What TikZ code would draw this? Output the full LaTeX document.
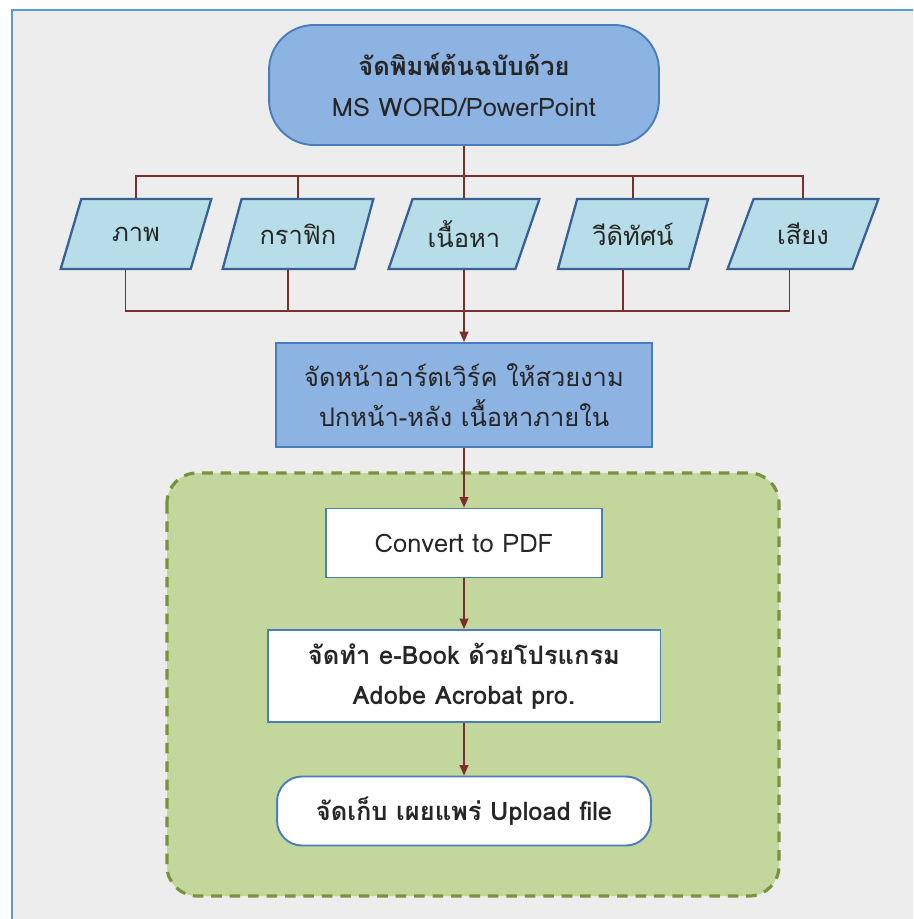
\documentclass[tikz,border=0pt]{standalone}
\usepackage{fontspec}
\newfontfamily\thaifont[Script=Thai]{Loma}
\usetikzlibrary{shapes.geometric,arrows.meta}

\definecolor{framebl}{HTML}{5B9BD5}
\definecolor{bggray}{HTML}{EDEDED}
\definecolor{boxfill}{HTML}{8DB3E2}
\definecolor{boxedge}{HTML}{4A7EBB}
\definecolor{parafill}{HTML}{B7DEE8}
\definecolor{paraedge}{HTML}{386196}
\definecolor{linkred}{HTML}{7A2E2E}
\definecolor{zonefill}{HTML}{C3D69B}
\definecolor{zoneedge}{HTML}{77933C}

\tikzset{
    label text/.style={font=\thaifont\fontsize{14.5}{23}\selectfont, align=center, text=black!85},
    stepbox/.style={label text, draw=boxedge, line width=1.1pt, inner sep=0pt},
    media/.style={label text, trapezium, trapezium left angle=58, trapezium right angle=122,
        trapezium stretches=true, draw=paraedge, fill=parafill, line width=1.3pt,
        minimum width=3.02cm, minimum height=1.4cm, inner sep=0pt},
    conn/.style={draw=linkred, line width=0.9pt},
    arr/.style={conn, -{Triangle[length=6pt,width=5pt]}}
}

\begin{document}
\begin{tikzpicture}[x=0.02cm,y=-0.02cm]
        \useasboundingbox (0,0) rectangle (913,919);

        % Draw the page background and frame
        \fill[white] (0,0) rectangle (913,919);
        \fill[bggray] (12,10) rectangle (913,919);
        \draw[framebl, line width=1.2pt] (12,919) -- (12,10) -- (913,10);

        % Draw the PDF zone
        \draw[zoneedge, fill=zonefill, line width=1.8pt, dash pattern=on 6pt off 4.5pt, rounded corners=0.6cm]
            (167,473) rectangle (779,896);

        % Draw the steps
        \node[stepbox, fill=boxfill, rounded corners=0.9cm, minimum width=7.8cm, minimum height=2.4cm]
            (top) at (464,85) {\textbf{จัดพิมพ์ต้นฉบับด้วย}\\MS WORD/PowerPoint};

        \foreach \name/\x/\lbl in {p1/136/ภาพ, p2/298/กราฟิก, p3/464/เนื้อหา, p4/633/วีดิทัศน์, p5/803/เสียง}
            \node[media] (\name) at (\x,234) {\lbl};

        \node[stepbox, fill=boxfill, minimum width=7.52cm, minimum height=2.08cm]
            (art) at (464,395) {จัดหน้าอาร์ตเวิร์ค ให้สวยงาม\\ปกหน้า-หลัง เนื้อหาภายใน};

        \node[stepbox, fill=white, minimum width=5.52cm, minimum height=1.38cm]
            (pdf) at (464,543) {Convert to PDF};

        \node[stepbox, fill=white, minimum width=7.86cm, minimum height=1.84cm, font=\thaifont\bfseries\fontsize{14.5}{23}\selectfont]
            (ebook) at (464,676) {จัดทำ e-Book ด้วยโปรแกรม\\Adobe Acrobat pro.};

        \node[stepbox, fill=white, rounded corners=0.5cm, minimum width=7.48cm, minimum height=1.38cm, font=\thaifont\bfseries\fontsize{14.5}{23}\selectfont]
            (upload) at (464,811) {จัดเก็บ เผยแพร่ Upload file};

        % Draw the upper bus
        \coordinate (upbus) at (top.south |- 0,176);
        \draw[conn] (top.south) -- (p3.center |- p3.top side);
        \foreach \i in {1,2,4,5}
            \draw[conn] (upbus) -| (p\i.center |- p\i.top side);

        % Draw the lower bus
        \coordinate (lowbus) at (p3.center |- 0,311);
        \foreach \i in {1,2,4,5}
            \draw[conn] (p\i.bottom side) |- (lowbus);
        \draw[arr] (p3.center |- p3.bottom side) -- (art);

        % Draw the flow arrows
        \draw[arr] (art) -- (pdf);
        \draw[arr] (pdf) -- (ebook);
        \draw[arr] (ebook) -- (upload);
    \end{tikzpicture}
\end{document}
